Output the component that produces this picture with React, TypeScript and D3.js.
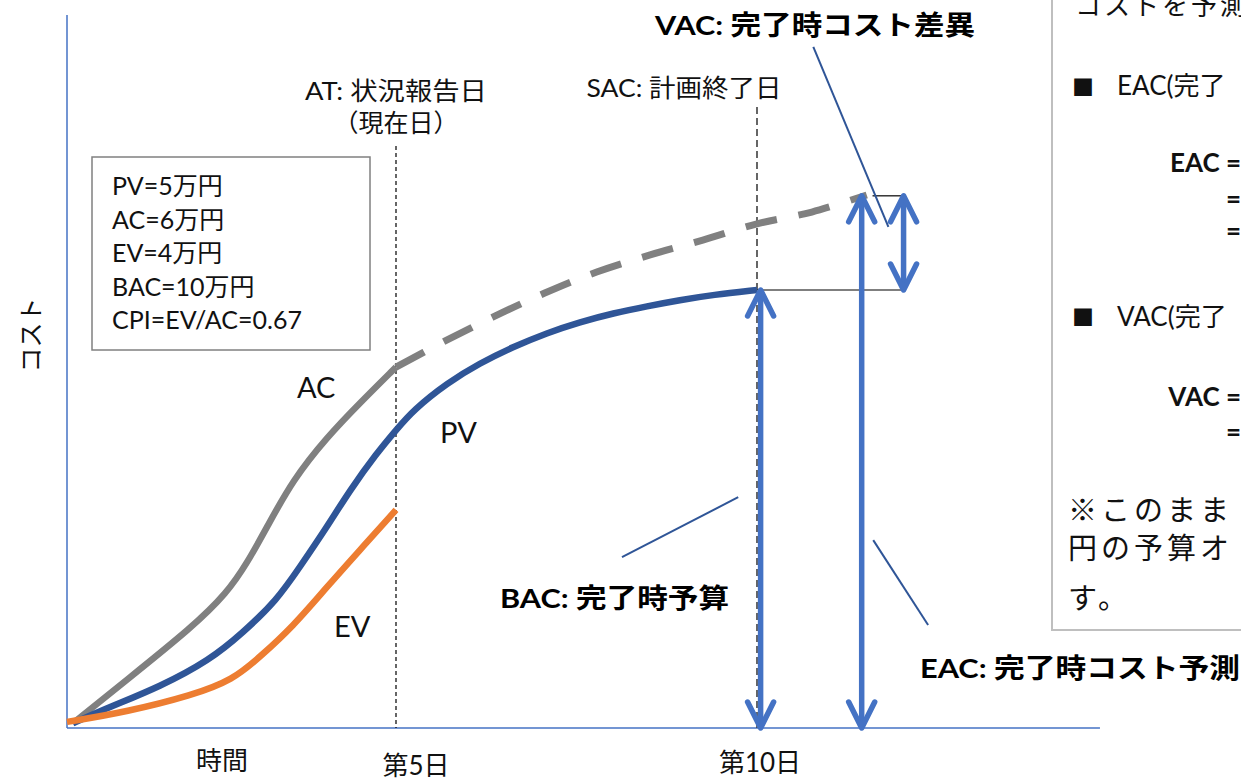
import React from "react";
import * as d3 from "d3";

const W = 1241;
const H = 779;

// ---- data (time in days, cost in 万円, schematic as drawn) ----
const acDays = [0.09, 0.91, 1.91, 2.43, 2.74, 3.04, 3.43, 3.95, 4.45, 5.0];
const acCost = [0.11, 1.1, 2.31, 3.08, 3.77, 4.59, 5.66, 6.64, 7.42, 8.24];

const pvDays = [0.09, 0.65, 1.41, 2.17, 2.67, 3.19, 3.54, 3.95, 4.3, 4.71, 5.0, 5.24, 5.71, 6.16, 6.62, 7.09, 7.55, 8.01, 8.48, 8.93, 9.39, 10.0];
const pvCost = [0.11, 0.48, 0.94, 1.55, 2.17, 2.92, 3.68, 4.59, 5.43, 6.28, 6.8, 7.26, 7.88, 8.33, 8.7, 9.02, 9.27, 9.47, 9.63, 9.77, 9.89, 10.0];

const evDays = [0.0, 0.91, 1.91, 2.52, 2.93, 3.43, 3.95, 4.45, 5.0];
const evCost = [0.14, 0.37, 0.75, 1.1, 1.62, 2.31, 3.22, 4.06, 4.98];

const eacDays = [5.0, 5.65, 6.34, 7.06, 7.78, 8.52, 9.25, 10.0, 10.76, 11.52];
const eacCost = [8.24, 8.81, 9.38, 9.93, 10.41, 10.8, 11.14, 11.51, 11.78, 12.17];

const AT_DAY = 5;
const SAC_DAY = 10;
const BAC = 10;
const EAC = 12.15;
const BAC_ARROW_DAY = 10.05;
const EAC_ARROW_DAY = 11.45;
const VAC_ARROW_DAY = 12.03;
const VAC_TOP_LINE_START = 11.6;
const X_AXIS_END = 14.75;
const Y_AXIS_END = 16.28;

const tickDays = [5, 10];
const tickLabels = ["第5日", "第10日"];

const infoLines = ["PV=5万円", "AC=6万円", "EV=4万円", "BAC=10万円", "CPI=EV/AC=0.67"];

// leader lines [t1, v1, t2, v2]
const vacLeader = [10.78, 15.55, 11.82, 11.44];
const bacLeader = [9.74, 5.27, 8.13, 3.9];
const eacLeader = [11.61, 4.29, 12.37, 2.35];

const FONT = "Lato, 'Noto Sans CJK JP', sans-serif";
const BLUE = "#4472C4";
const DARKBLUE = "#2F5597";
const GRAY = "#808080";
const ORANGE = "#ED7D31";

const x = d3.scaleLinear().domain([0, 5, 10, 15]).range([67, 396, 757, 1118]);
const y = d3.scaleLinear().domain([0, 10]).range([728, 290]);

const smooth = d3
  .line<[number, number]>()
  .x((d) => x(d[0]))
  .y((d) => y(d[1]))
  .curve(d3.curveBasis);

const dashed = d3
  .line<[number, number]>()
  .x((d) => x(d[0]))
  .y((d) => y(d[1]))
  .curve(d3.curveCatmullRom.alpha(0.5));

const zip = (a: number[], b: number[]) => a.map((v, i) => [v, b[i]] as [number, number]);

function Arrow({ t, v1, v2 }: { t: number; v1: number; v2: number }) {
  const px = x(t);
  const yTop = y(v2);
  const yBot = y(v1);
  const ax = 13;
  const ay = 26;
  return (
    <g stroke={BLUE} strokeWidth={5.5} strokeLinecap="round" strokeLinejoin="round" fill="none">
      <line x1={px} x2={px} y1={yTop + 2} y2={yBot - 2} />
      <polyline points={`${px - ax},${yTop + ay} ${px},${yTop} ${px + ax},${yTop + ay}`} />
      <polyline points={`${px - ax},${yBot - ay} ${px},${yBot} ${px + ax},${yBot - ay}`} />
    </g>
  );
}

function Leader({ d }: { d: number[] }) {
  return <line x1={x(d[0])} y1={y(d[1])} x2={x(d[2])} y2={y(d[3])} stroke={DARKBLUE} strokeWidth={2} />;
}

export default function App() {
  return (
    <div style={{ position: "fixed", left: 0, top: 0, width: W, height: H, background: "#fff" }}>
      <svg width={W} height={H} style={{ display: "block", fontFamily: FONT }}>
        <rect x={0} y={0} width={W} height={H} fill="#fff" />

        {/* right explanation box */}
        <rect x={1052} y={-10} width={260} height={640} fill="#fff" stroke="#BFBFBF" strokeWidth={2} />
        <g fontSize={26} fill="#111">
          <text x={1075} y={15} fontSize={26} letterSpacing={3}>コストを予測</text>
          <text x={1072} y={95} fontSize={22}>■</text>
          <text x={1117} y={95}>EAC(完了</text>
          <text x={1241} y={172} fontWeight="bold" textAnchor="end">EAC =</text>
          <text x={1241} y={208} fontWeight="bold" textAnchor="end">=</text>
          <text x={1241} y={240} fontWeight="bold" textAnchor="end">=</text>
          <text x={1072} y={325} fontSize={22}>■</text>
          <text x={1117} y={326}>VAC(完了</text>
          <text x={1241} y={406} fontWeight="bold" textAnchor="end">VAC =</text>
          <text x={1241} y={441} fontWeight="bold" textAnchor="end">=</text>
          <text x={1068} y={521} fontSize={29} letterSpacing={4}>※このまま</text>
          <text x={1068} y={559} fontSize={29} letterSpacing={4}>円の予算オ</text>
          <text x={1068} y={609} fontSize={29} letterSpacing={4}>す。</text>
        </g>

        {/* axes */}
        <line x1={x(0)} x2={x(0)} y1={y(0)} y2={y(Y_AXIS_END)} stroke={BLUE} strokeWidth={1.5} />
        <line x1={x(0)} x2={x(X_AXIS_END)} y1={y(0)} y2={y(0)} stroke={BLUE} strokeWidth={1.5} />

        {/* vertical reference lines */}
        <line x1={x(AT_DAY)} x2={x(AT_DAY)} y1={146} y2={y(0)} stroke="#000" strokeWidth={1.2} strokeDasharray="4 3" />
        <line x1={x(SAC_DAY)} x2={x(SAC_DAY)} y1={107} y2={y(0)} stroke="#404040" strokeWidth={1.6} strokeDasharray="7 4" />

        {/* info box */}
        <rect x={92} y={157} width={278} height={193} fill="#fff" stroke={GRAY} strokeWidth={1.5} />
        <g fontSize={25} fill="#111">
          {infoLines.map((s, i) => (
            <text key={s} x={112} y={195 + i * 33.5}>{s}</text>
          ))}
        </g>

        {/* curves */}
        <path d={dashed(zip(eacDays, eacCost)) || ""} fill="none" stroke={GRAY} strokeWidth={7} strokeDasharray="32 22" />
        <path d={smooth(zip(acDays, acCost)) || ""} fill="none" stroke={GRAY} strokeWidth={6.5} />
        <path d={smooth(zip(pvDays, pvCost)) || ""} fill="none" stroke={DARKBLUE} strokeWidth={6.5} />
        <path d={smooth(zip(evDays, evCost)) || ""} fill="none" stroke={ORANGE} strokeWidth={6.5} />

        {/* horizontal guides */}
        <line x1={x(SAC_DAY)} x2={x(VAC_ARROW_DAY)} y1={y(BAC)} y2={y(BAC)} stroke="#000" strokeWidth={1.2} />
        <line x1={x(VAC_TOP_LINE_START)} x2={x(VAC_ARROW_DAY)} y1={y(EAC)} y2={y(EAC)} stroke="#000" strokeWidth={1.2} />

        {/* arrows */}
        <Arrow t={BAC_ARROW_DAY} v1={0} v2={BAC} />
        <Arrow t={EAC_ARROW_DAY} v1={0} v2={EAC} />
        <Arrow t={VAC_ARROW_DAY} v1={BAC} v2={EAC} />

        {/* leaders */}
        <Leader d={vacLeader} />
        <Leader d={bacLeader} />
        <Leader d={eacLeader} />

        {/* series labels */}
        <g fontSize={29} fill="#111">
          <text x={297} y={398}>AC</text>
          <text x={440} y={443}>PV</text>
          <text x={334} y={637}>EV</text>
        </g>

        {/* top labels */}
        <g fontSize={25} fill="#111" textAnchor="middle">
          <text x={x(AT_DAY)} y={100} textLength={182} lengthAdjust="spacingAndGlyphs">AT: 状況報告日</text>
          <text x={x(AT_DAY)} y={132}>（現在日）</text>
          <text x={684} y={97} textLength={195} lengthAdjust="spacingAndGlyphs">SAC: 計画終了日</text>
        </g>

        {/* bold callouts */}
        <g fontSize={27} fontWeight="bold" fill="#000">
          <text x={655} y={35} textLength={320} lengthAdjust="spacingAndGlyphs">VAC: 完了時コスト差異</text>
          <text x={500} y={608} textLength={229} lengthAdjust="spacingAndGlyphs">BAC: 完了時予算</text>
          <text x={920} y={678} textLength={320} lengthAdjust="spacingAndGlyphs">EAC: 完了時コスト予測</text>
        </g>

        {/* x tick labels and axis titles */}
        <g fontSize={26} fill="#111" textAnchor="middle">
          {tickDays.map((d, i) => (
            <text key={d} x={x(d) + (i === 0 ? 20 : 3)} y={i === 0 ? 775 : 772}>{tickLabels[i]}</text>
          ))}
          <text x={222} y={770}>時間</text>
          <text transform="translate(40,335) rotate(-90)" fontSize={25}>コスト</text>
        </g>
      </svg>
    </div>
  );
}
